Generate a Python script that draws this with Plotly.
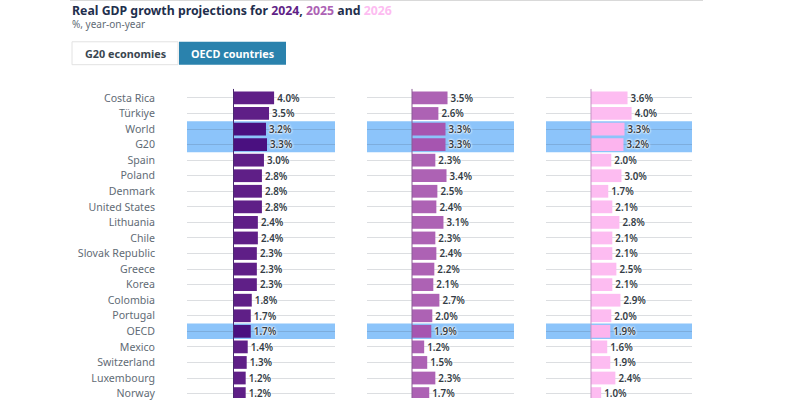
import plotly.graph_objects as go

countries = ["Costa Rica", "Türkiye", "World", "G20", "Spain", "Poland", "Denmark", "United States",
             "Lithuania", "Chile", "Slovak Republic", "Greece", "Korea", "Colombia", "Portugal",
             "OECD", "Mexico", "Switzerland", "Luxembourg", "Norway"]
growth_2024 = [4.0, 3.5, 3.2, 3.3, 3.0, 2.8, 2.8, 2.8, 2.4, 2.4, 2.3, 2.3, 2.3, 1.8, 1.7, 1.7, 1.4, 1.3, 1.2, 1.2]
growth_2025 = [3.5, 2.6, 3.3, 3.3, 2.3, 3.4, 2.5, 2.4, 3.1, 2.3, 2.4, 2.2, 2.1, 2.7, 2.0, 1.9, 1.2, 1.5, 2.3, 1.7]
growth_2026 = [3.6, 4.0, 3.3, 3.2, 2.0, 3.0, 1.7, 2.1, 2.8, 2.1, 2.1, 2.5, 2.1, 2.9, 2.0, 1.9, 1.6, 1.9, 2.4, 1.0]
highlighted = ["World", "G20", "OECD"]

FONT = "Noto Sans"
W, H = 800, 400
ROW = 15.64
TOP = 98.4
PX_PER_UNIT = 10.15

# values, colour, highlighted colour, zero line colour, left px, right px, zero px
panels = [
    ("x", growth_2024, "#5f1f87", "#4a1080", "#4a2a70", 187, 335, 233.5),
    ("x2", growth_2025, "#ad62b4", "#a655b0", "#8a5a95", 367, 514, 412),
    ("x3", growth_2026, "#fdbcf1", "#fcb4ee", "#c493c4", 546, 692, 591),
]

fig = go.Figure()
layout_axes = {}
shapes = []

for axis, values, colour, hl_colour, zero_colour, left, right, zero in panels:
    suffix = axis[1:]
    colours = [hl_colour if c in highlighted else colour for c in countries]
    fig.add_trace(go.Bar(
        x=values, y=countries, orientation="h", xaxis=axis, yaxis="y" + suffix,
        marker=dict(color=colours, line=dict(width=0)),
        width=0.82,
        text=[f"{v:.1f}%" for v in values], textposition="outside", cliponaxis=False,
        textfont=dict(family=FONT, size=11.5, color="#333c45", weight=600,
                      shadow="0 0 2px #fff, 0 0 2px #fff, 0 0 3px #fff"),
        showlegend=False,
    ))
    layout_axes["xaxis" + suffix] = dict(
        domain=[left / W, right / W],
        range=[(left - zero) / PX_PER_UNIT, (right - zero) / PX_PER_UNIT],
        visible=False, anchor="y" + suffix,
    )
    layout_axes["yaxis" + suffix] = dict(
        domain=[0, 1], type="category", categoryorder="array", categoryarray=countries,
        range=[(H - TOP) / ROW, -TOP / ROW], anchor="x" + suffix,
        showgrid=True, gridcolor="rgba(60,70,90,0.18)", gridwidth=1, zeroline=False,
        showline=False, ticks="", showticklabels=False,
    )
    # blue bands behind the aggregate rows
    shapes.append(dict(type="rect", xref="x" + suffix, yref="y" + suffix, layer="below",
                       x0=(left - zero) / PX_PER_UNIT, x1=(right - zero) / PX_PER_UNIT,
                       y0=countries.index("World") - 0.5, y1=countries.index("G20") + 0.5,
                       fillcolor="#8cc4fa", line=dict(width=0)))
    shapes.append(dict(type="rect", xref="x" + suffix, yref="y" + suffix, layer="below",
                       x0=(left - zero) / PX_PER_UNIT, x1=(right - zero) / PX_PER_UNIT,
                       y0=countries.index("OECD") - 0.5, y1=countries.index("OECD") + 0.5,
                       fillcolor="#8cc4fa", line=dict(width=0)))
    shapes.append(dict(type="line", xref="x" + suffix, yref="paper", layer="above",
                       x0=0, x1=0, y0=0, y1=1 - (TOP - 9) / H,
                       line=dict(color=zero_colour, width=1)))

# country names sit on the first y axis, pushed left of the gridlines
layout_axes["yaxis"].update(showticklabels=True, anchor="free", position=155 / W,
                            tickfont=dict(family=FONT, size=10.6, color="#5f6b75"))

# header line and the two buttons
shapes.append(dict(type="line", xref="paper", yref="paper", x0=70 / W, x1=703 / W, y0=0.999, y1=0.999,
                   line=dict(color="#d5d5d5", width=1)))
shapes.append(dict(type="rect", xref="paper", yref="paper", x0=72 / W, x1=178 / W,
                   y0=1 - 65 / H, y1=1 - 42 / H, fillcolor="#ffffff", line=dict(color="#e2e2e2", width=1)))
shapes.append(dict(type="rect", xref="paper", yref="paper", x0=179 / W, x1=286 / W,
                   y0=1 - 65 / H, y1=1 - 42 / H, fillcolor="#2a82ad", line=dict(width=0)))

fig.update_layout(
    width=W, height=H, margin=dict(l=0, r=0, t=0, b=0),
    paper_bgcolor="#ffffff", plot_bgcolor="rgba(0,0,0,0)",
    font=dict(family=FONT), shapes=shapes, **layout_axes,
)


def label(text, x, y, size, color, anchor="left", weight=None):
    fig.add_annotation(text=text, xref="paper", yref="paper", x=x / W, y=1 - y / H,
                       xanchor=anchor, yanchor="middle", showarrow=False,
                       font=dict(family=FONT, size=size, color=color, weight=weight))


label("Real GDP growth projections for <span style='color:#5f1f87'>2024</span>, "
      "<span style='color:#ad62b4'>2025</span> and <span style='color:#fdbcf1'>2026</span>",
      70, 11, 12.3, "#1f2f4d", weight=700)
label("%, year-on-year", 70, 24, 10, "#5f6b75")
label("G20 economies", 125, 54, 10.8, "#3a4650", "center", 700)
label("OECD countries", 232.5, 54, 10.8, "#ffffff", "center", 700)

fig.write_html("out.html", config=dict(displayModeBar=False),
               post_script="document.body.style.margin='0'")
